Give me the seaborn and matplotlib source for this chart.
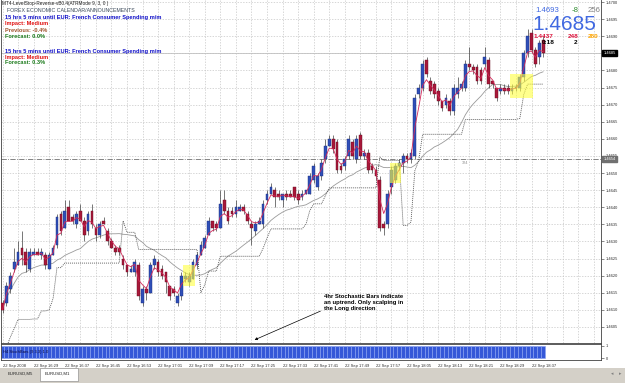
import numpy as np
import pandas as pd
import seaborn as sns
import matplotlib
matplotlib.use("Agg")
import matplotlib.pyplot as plt
from matplotlib.patches import Rectangle

# EURUSD M1 bars, 22 Sep 2008, 16:21 -> 18:40 (one bar per minute)
opens = [1.4612, 1.4612, 1.4616, 1.4622, 1.4623, 1.4628, 1.4627, 1.4622, 1.4626, 1.4627,
         1.4626, 1.4626, 1.4622, 1.4626, 1.4629, 1.4638, 1.4634, 1.4640, 1.4637, 1.4635,
         1.4639, 1.4636, 1.4633, 1.4639, 1.4634, 1.4632, 1.4636, 1.4633, 1.4630, 1.4628,
         1.4628, 1.4625, 1.4623, 1.4621, 1.4621, 1.4623, 1.4612, 1.4616, 1.4615, 1.4623,
         1.4624, 1.4622, 1.4621, 1.4617, 1.4616, 1.4612, 1.4614, 1.4619, 1.4618, 1.4619,
         1.4623, 1.4626, 1.4628, 1.4632, 1.4636, 1.4635, 1.4634, 1.4642, 1.4639, 1.4639,
         1.4638, 1.4639, 1.4640, 1.4638, 1.4635, 1.4633, 1.4635, 1.4635, 1.4642, 1.4644,
         1.4645, 1.4644, 1.4642, 1.4644, 1.4644, 1.4646, 1.4644, 1.4643, 1.4644, 1.4644,
         1.4648, 1.4646, 1.4649, 1.4654, 1.4658, 1.4660, 1.4659, 1.4652, 1.4652, 1.4655,
         1.4659, 1.4654, 1.4661, 1.4655, 1.4656, 1.4652, 1.4651, 1.4648, 1.4635, 1.4635,
         1.4646, 1.4648, 1.4652, 1.4653, 1.4655, 1.4654, 1.4655, 1.4673, 1.4675, 1.4683,
         1.4677, 1.4676, 1.4674, 1.4671, 1.4670, 1.4671, 1.4668, 1.4673, 1.4675, 1.4675,
         1.4682, 1.4681, 1.4681, 1.4680, 1.4682, 1.4683, 1.4677, 1.4675, 1.4674, 1.4675,
         1.4675, 1.4674, 1.4675, 1.4675, 1.4678, 1.4685, 1.4691, 1.4686, 1.4684, 1.4689]
highs = [1.4613, 1.4618, 1.4621, 1.4628, 1.4630, 1.4633, 1.4628, 1.4628, 1.4628, 1.4628,
         1.4628, 1.4627, 1.4627, 1.4629, 1.4638, 1.4639, 1.4642, 1.4642, 1.4638, 1.4639,
         1.4641, 1.4637, 1.4639, 1.4641, 1.4635, 1.4636, 1.4637, 1.4634, 1.4631, 1.4629,
         1.4629, 1.4626, 1.4623, 1.4623, 1.4625, 1.4624, 1.4617, 1.4617, 1.4624, 1.4626,
         1.4625, 1.4623, 1.4621, 1.4617, 1.4617, 1.4615, 1.4621, 1.4621, 1.4621, 1.4625,
         1.4627, 1.4630, 1.4632, 1.4637, 1.4636, 1.4636, 1.4645, 1.4645, 1.4640, 1.4640,
         1.4642, 1.4641, 1.4641, 1.4639, 1.4636, 1.4636, 1.4637, 1.4642, 1.4645, 1.4647,
         1.4646, 1.4645, 1.4644, 1.4645, 1.4645, 1.4646, 1.4645, 1.4645, 1.4645, 1.4650,
         1.4653, 1.4650, 1.4654, 1.4660, 1.4661, 1.4661, 1.4660, 1.4653, 1.4655, 1.4661,
         1.4660, 1.4661, 1.4662, 1.4657, 1.4657, 1.4653, 1.4652, 1.4649, 1.4636, 1.4645,
         1.4652, 1.4653, 1.4654, 1.4656, 1.4656, 1.4657, 1.4673, 1.4676, 1.4683, 1.4684,
         1.4678, 1.4677, 1.4675, 1.4671, 1.4673, 1.4672, 1.4676, 1.4678, 1.4677, 1.4683,
         1.4687, 1.4682, 1.4682, 1.4681, 1.4687, 1.4684, 1.4677, 1.4675, 1.4676, 1.4676,
         1.4676, 1.4676, 1.4676, 1.4679, 1.4686, 1.4692, 1.4692, 1.4687, 1.4689, 1.4690]
lows = [1.4609, 1.4611, 1.4615, 1.4621, 1.4623, 1.4623, 1.4621, 1.4621, 1.4626, 1.4626,
        1.4625, 1.4622, 1.4622, 1.4626, 1.4628, 1.4632, 1.4634, 1.4636, 1.4635, 1.4634,
        1.4636, 1.4630, 1.4632, 1.4634, 1.4630, 1.4631, 1.4635, 1.4629, 1.4628, 1.4626,
        1.4626, 1.4622, 1.4620, 1.4621, 1.4620, 1.4613, 1.4611, 1.4613, 1.4615, 1.4622,
        1.4620, 1.4619, 1.4615, 1.4613, 1.4614, 1.4611, 1.4613, 1.4618, 1.4617, 1.4619,
        1.4622, 1.4626, 1.4628, 1.4632, 1.4633, 1.4633, 1.4634, 1.4638, 1.4635, 1.4637,
        1.4637, 1.4639, 1.4638, 1.4635, 1.4629, 1.4632, 1.4635, 1.4634, 1.4641, 1.4644,
        1.4640, 1.4642, 1.4640, 1.4642, 1.4643, 1.4642, 1.4641, 1.4642, 1.4644, 1.4644,
        1.4647, 1.4645, 1.4648, 1.4653, 1.4658, 1.4656, 1.4650, 1.4650, 1.4651, 1.4654,
        1.4654, 1.4653, 1.4654, 1.4654, 1.4650, 1.4650, 1.4648, 1.4633, 1.4632, 1.4634,
        1.4644, 1.4647, 1.4651, 1.4650, 1.4653, 1.4653, 1.4654, 1.4672, 1.4674, 1.4678,
        1.4673, 1.4672, 1.4670, 1.4668, 1.4669, 1.4667, 1.4667, 1.4672, 1.4674, 1.4674,
        1.4680, 1.4679, 1.4676, 1.4676, 1.4681, 1.4675, 1.4675, 1.4671, 1.4673, 1.4673,
        1.4673, 1.4673, 1.4674, 1.4674, 1.4677, 1.4684, 1.4685, 1.4681, 1.4682, 1.4684]
closes = [1.4610, 1.4617, 1.4620, 1.4624, 1.4627, 1.4626, 1.4623, 1.4627, 1.4627, 1.4626,
          1.4627, 1.4623, 1.4626, 1.4628, 1.4637, 1.4633, 1.4639, 1.4636, 1.4636, 1.4638,
          1.4636, 1.4632, 1.4638, 1.4635, 1.4632, 1.4635, 1.4635, 1.4630, 1.4628, 1.4627,
          1.4627, 1.4623, 1.4621, 1.4622, 1.4624, 1.4614, 1.4616, 1.4615, 1.4623, 1.4625,
          1.4621, 1.4620, 1.4618, 1.4614, 1.4615, 1.4614, 1.4620, 1.4620, 1.4620, 1.4624,
          1.4626, 1.4629, 1.4631, 1.4636, 1.4634, 1.4634, 1.4641, 1.4639, 1.4636, 1.4638,
          1.4640, 1.4640, 1.4639, 1.4636, 1.4634, 1.4635, 1.4636, 1.4641, 1.4644, 1.4646,
          1.4643, 1.4643, 1.4644, 1.4643, 1.4643, 1.4643, 1.4642, 1.4644, 1.4645, 1.4649,
          1.4652, 1.4649, 1.4653, 1.4658, 1.4660, 1.4657, 1.4651, 1.4651, 1.4654, 1.4660,
          1.4655, 1.4660, 1.4655, 1.4656, 1.4651, 1.4651, 1.4649, 1.4634, 1.4634, 1.4644,
          1.4651, 1.4652, 1.4653, 1.4655, 1.4654, 1.4656, 1.4672, 1.4675, 1.4682, 1.4679,
          1.4674, 1.4673, 1.4671, 1.4669, 1.4672, 1.4668, 1.4675, 1.4675, 1.4676, 1.4682,
          1.4681, 1.4680, 1.4677, 1.4677, 1.4684, 1.4676, 1.4676, 1.4672, 1.4675, 1.4674,
          1.4674, 1.4675, 1.4675, 1.4678, 1.4685, 1.4690, 1.4686, 1.4682, 1.4688, 1.4685]

# time axis labels, one every 8 bars
time_labels = ["22 Sep 2008", "22 Sep 16:29", "22 Sep 16:37", "22 Sep 16:45", "22 Sep 16:53",
               "22 Sep 17:01", "22 Sep 17:09", "22 Sep 17:17", "22 Sep 17:25", "22 Sep 17:33",
               "22 Sep 17:41", "22 Sep 17:49", "22 Sep 17:57", "22 Sep 18:05", "22 Sep 18:13",
               "22 Sep 18:21", "22 Sep 18:29", "22 Sep 18:37"]

# H4 stochastic bars (1 = uptrend on every bar)
h4_stoch = [1] * len(closes)

# yellow highlight boxes: first bar, last bar, low, high
box_first = [47, 100, 131]
box_last = [49, 102, 136]
box_low = [1.4617, 1.4647, 1.4672]
box_high = [1.4623, 1.4653, 1.4679]

bid = 1.4685
level_line = 1.4654

#indicators from the bars
df = pd.DataFrame({'bar': np.arange(len(closes)), 'open': opens, 'high': highs,
                   'low': lows, 'close': closes})
df['fast'] = df['close'].ewm(span=3).mean()
df['slow'] = df['close'].rolling(21, min_periods=1).mean()

prev_close = df['close'].shift(1).fillna(df['close'].iloc[0])
tr = pd.concat([df['high'] - df['low'], (df['high'] - prev_close).abs(),
                (df['low'] - prev_close).abs()], axis=1).max(axis=1)
atr = tr.rolling(9, min_periods=1).mean()

# level stop reverse, ATR mode (9, 3)
stops = []
trend_up = True
level = df['close'].iloc[0] - 3 * atr.iloc[0]
for c, a in zip(df['close'], atr):
    if trend_up:
        if c < level:
            trend_up = False
            level = c + 3 * a
        else:
            level = max(level, c - 3 * a)
    else:
        if c > level:
            trend_up = True
            level = c - 3 * a
        else:
            level = min(level, c + 3 * a)
    stops.append(level)
df['stop'] = stops

sns.set_style("white")
plt.rcParams['font.family'] = ['Liberation Sans', 'DejaVu Sans']

W, H = 625, 383
fig = plt.figure(figsize=(W / 100, H / 100), dpi=100)


def fx(x):
    return x / W


def fy(y):
    return 1 - y / H


ax = fig.add_axes([fx(1), fy(343), 600 / W, 343 / H])
axi = fig.add_axes([fx(1), fy(360), 600 / W, 16 / H])

grid_kw = dict(color='#c6c6c6', ls=(0, (2, 2)), lw=0.5)

# candles
up = df['close'] >= df['open']
body_lo = df[['open', 'close']].min(axis=1)
body_h = (df['close'] - df['open']).abs().clip(lower=0.00003)
ax.vlines(df['bar'], df['low'], df['high'], color='#404040', lw=0.5, zorder=3)
ax.bar(df['bar'][up], body_h[up], bottom=body_lo[up], width=0.7,
       color='#2f4fb8', edgecolor='#1b2d7a', lw=0.3, zorder=4)
ax.bar(df['bar'][~up], body_h[~up], bottom=body_lo[~up], width=0.7,
       color='#a8183a', edgecolor='#650d20', lw=0.3, zorder=4)

sns.lineplot(data=df, x='bar', y='slow', ax=ax, color='#9a9a9a', lw=0.6, zorder=2)
sns.lineplot(data=df, x='bar', y='stop', ax=ax, color='#505050', lw=0.6,
             linestyle=(0, (1.2, 1.2)), zorder=2)
sns.lineplot(data=df, x='bar', y='fast', ax=ax, color='#d42a5a', lw=0.6, zorder=5)

for b0, b1, lo, hi in zip(box_first, box_last, box_low, box_high):
    ax.add_patch(Rectangle((b0 - 0.5, lo), b1 - b0 + 1, hi - lo, facecolor='#ffff40',
                           edgecolor='none', alpha=0.6, zorder=6))

ax.axhline(bid, color='#c0c0c0', lw=0.6, zorder=1)
ax.axhline(level_line, color='#707070', lw=0.6, ls='-.', zorder=1)
ax.text(118, level_line - 0.00004, "324", fontsize=2.8, color='#909090', va='top')

xmin, xmax = -0.39, 153.86
ax.set_xlim(xmin, xmax)
ax.set_ylim(1.46003, 1.47006)
yt = np.arange(1.4605, 1.47001, 0.0005)
ax.set_yticks(yt)
# the bid box covers its own tick label
ax.set_yticklabels(["" if abs(v - bid) < 1e-6 else f"{v:.4f}" for v in yt])
ax.yaxis.tick_right()
ax.set_xticks(np.arange(0, 154, 4))
ax.tick_params(axis='x', length=0, labelbottom=False)
ax.tick_params(axis='y', length=2, width=0.4, pad=1.5, labelsize=2.9,
               colors='#303030')
ax.grid(True, **grid_kw)
ax.set_axisbelow(True)
ax.set_xlabel("")
ax.set_ylabel("")
for s in ax.spines.values():
    s.set_color('#404040')
    s.set_linewidth(0.6)
ax.spines['top'].set_visible(False)

# price boxes on the axis
ax.annotate(f"{bid:.4f}", xy=(1.004, bid), xycoords=('axes fraction', 'data'),
            fontsize=2.9, color='white', va='center', ha='left',
            bbox=dict(boxstyle='square,pad=0.25', fc='black', ec='black'), zorder=10,
            annotation_clip=False)
ax.annotate(f"{level_line:.4f}", xy=(1.004, level_line), xycoords=('axes fraction', 'data'),
            fontsize=2.9, color='white', va='center', ha='left',
            bbox=dict(boxstyle='square,pad=0.25', fc='#707070', ec='#707070'), zorder=10,
            annotation_clip=False)

# H4 stochastic bars panel
axi.bar(df['bar'], h4_stoch, width=1.0, color='#3558d8', edgecolor='#8aa2f2', lw=0.4)
axi.set_xlim(xmin, xmax)
axi.set_ylim(-0.12, 1.12)
axi.set_yticks([0, 1])
axi.yaxis.tick_right()
axi.set_xticks(np.arange(0, len(closes), 8))
axi.set_xticklabels(time_labels, ha='left')
axi.tick_params(axis='x', length=2, width=0.4, pad=0.6, labelsize=3.0, colors='#303030')
axi.tick_params(axis='y', length=2, width=0.4, pad=1.5, labelsize=2.9, colors='#303030')
for s in axi.spines.values():
    s.set_color('#404040')
    s.set_linewidth(0.6)
axi.text(0.004, 0.5, "H4 StochBars (9,3,3) 1.0", transform=axi.transAxes,
         fontsize=3.0, color='#0a0a40', va='center')

# calendar text block
fig.text(fx(2), fy(4), "MT4-LevelStop-Reverse-vB0.4(ATRMode 9, 3, 0 )", fontsize=3.4,
         color='#202020', va='center')
fig.text(fx(7), fy(10), "FOREX ECONOMIC CALENDAR/ANNOUNCEMENTS", fontsize=3.8,
         color='#3b4a5a', va='center')
news = [(17, "15 hrs 5 mins until EUR: French Consumer Spending m/m", '#1010c8'),
        (24, "Impact: Medium", '#e01010'),
        (30, "Previous: -0.4%", '#a0522d'),
        (36, "Forecast: 0.0%", '#1a7a1a'),
        (51, "15 hrs 5 mins until EUR: French Consumer Spending m/m", '#1010c8'),
        (57, "Impact: Medium", '#e01010'),
        (63, "Forecast: 0.3%", '#1a7a1a')]
for y, txt, col in news:
    fig.text(fx(5), fy(y), txt, fontsize=4.1, color=col, weight='bold', va='center')

# price info, top right
fig.text(fx(535), fy(11), "1.4693", fontsize=5.6, color='#4169e1', va='center')
fig.text(fx(572), fy(11), "-8", fontsize=5.6, color='#2e8b2e', va='center')
fig.text(fx(588), fy(11), "256", fontsize=5.6, color='#808080', va='center')
fig.text(fx(532), fy(24.5), "1.4685", fontsize=15, color='#4169e1', va='center')
fig.text(fx(534), fy(36), "1.4437", fontsize=4.6, color='#dc143c', weight='bold', va='center')
fig.text(fx(568), fy(36), "248", fontsize=4.6, color='#dc143c', weight='bold', va='center')
fig.text(fx(588), fy(36), "280", fontsize=4.6, color='#ffa500', weight='bold', va='center')
fig.text(fx(542), fy(42.5), "0:18", fontsize=4.6, color='black', weight='bold', va='center')
fig.text(fx(574), fy(42.5), "2", fontsize=4.6, color='black', weight='bold', va='center')

# comment with arrow
fig.text(fx(324), fy(294), "4hr Stochastic Bars indicate\nan uptrend. Only scalping in\nthe Long direction",
         fontsize=4.2, weight='bold', color='black', va='top', linespacing=1.3)
ax.annotate("", xy=(fx(252), fy(341)), xycoords='figure fraction',
            xytext=(fx(323), fy(310)), textcoords='figure fraction',
            arrowprops=dict(arrowstyle='-|>', lw=0.5, color='black', mutation_scale=4),
            annotation_clip=False)

# tab bar
fig.add_artist(Rectangle((0, 0), 1, 15 / H, transform=fig.transFigure,
                         facecolor='#d4d0c8', edgecolor='none'))
fig.add_artist(Rectangle((fx(40), fy(381)), 38 / W, 13 / H, transform=fig.transFigure,
                         facecolor='white', edgecolor='#808080', lw=0.4))
fig.text(fx(8), fy(374), "EURUSD,M5", fontsize=3.1, color='#202020', va='center')
fig.text(fx(45), fy(374), "EURUSD,M1", fontsize=3.1, color='#202020', va='center')
fig.text(fx(611), fy(374), "◂", fontsize=3.5, color='#808080', va='center',
         family=['DejaVu Sans'])
fig.text(fx(619), fy(374), "▸", fontsize=3.5, color='#808080', va='center',
         family=['DejaVu Sans'])

fig.savefig("out.png", dpi=100)
